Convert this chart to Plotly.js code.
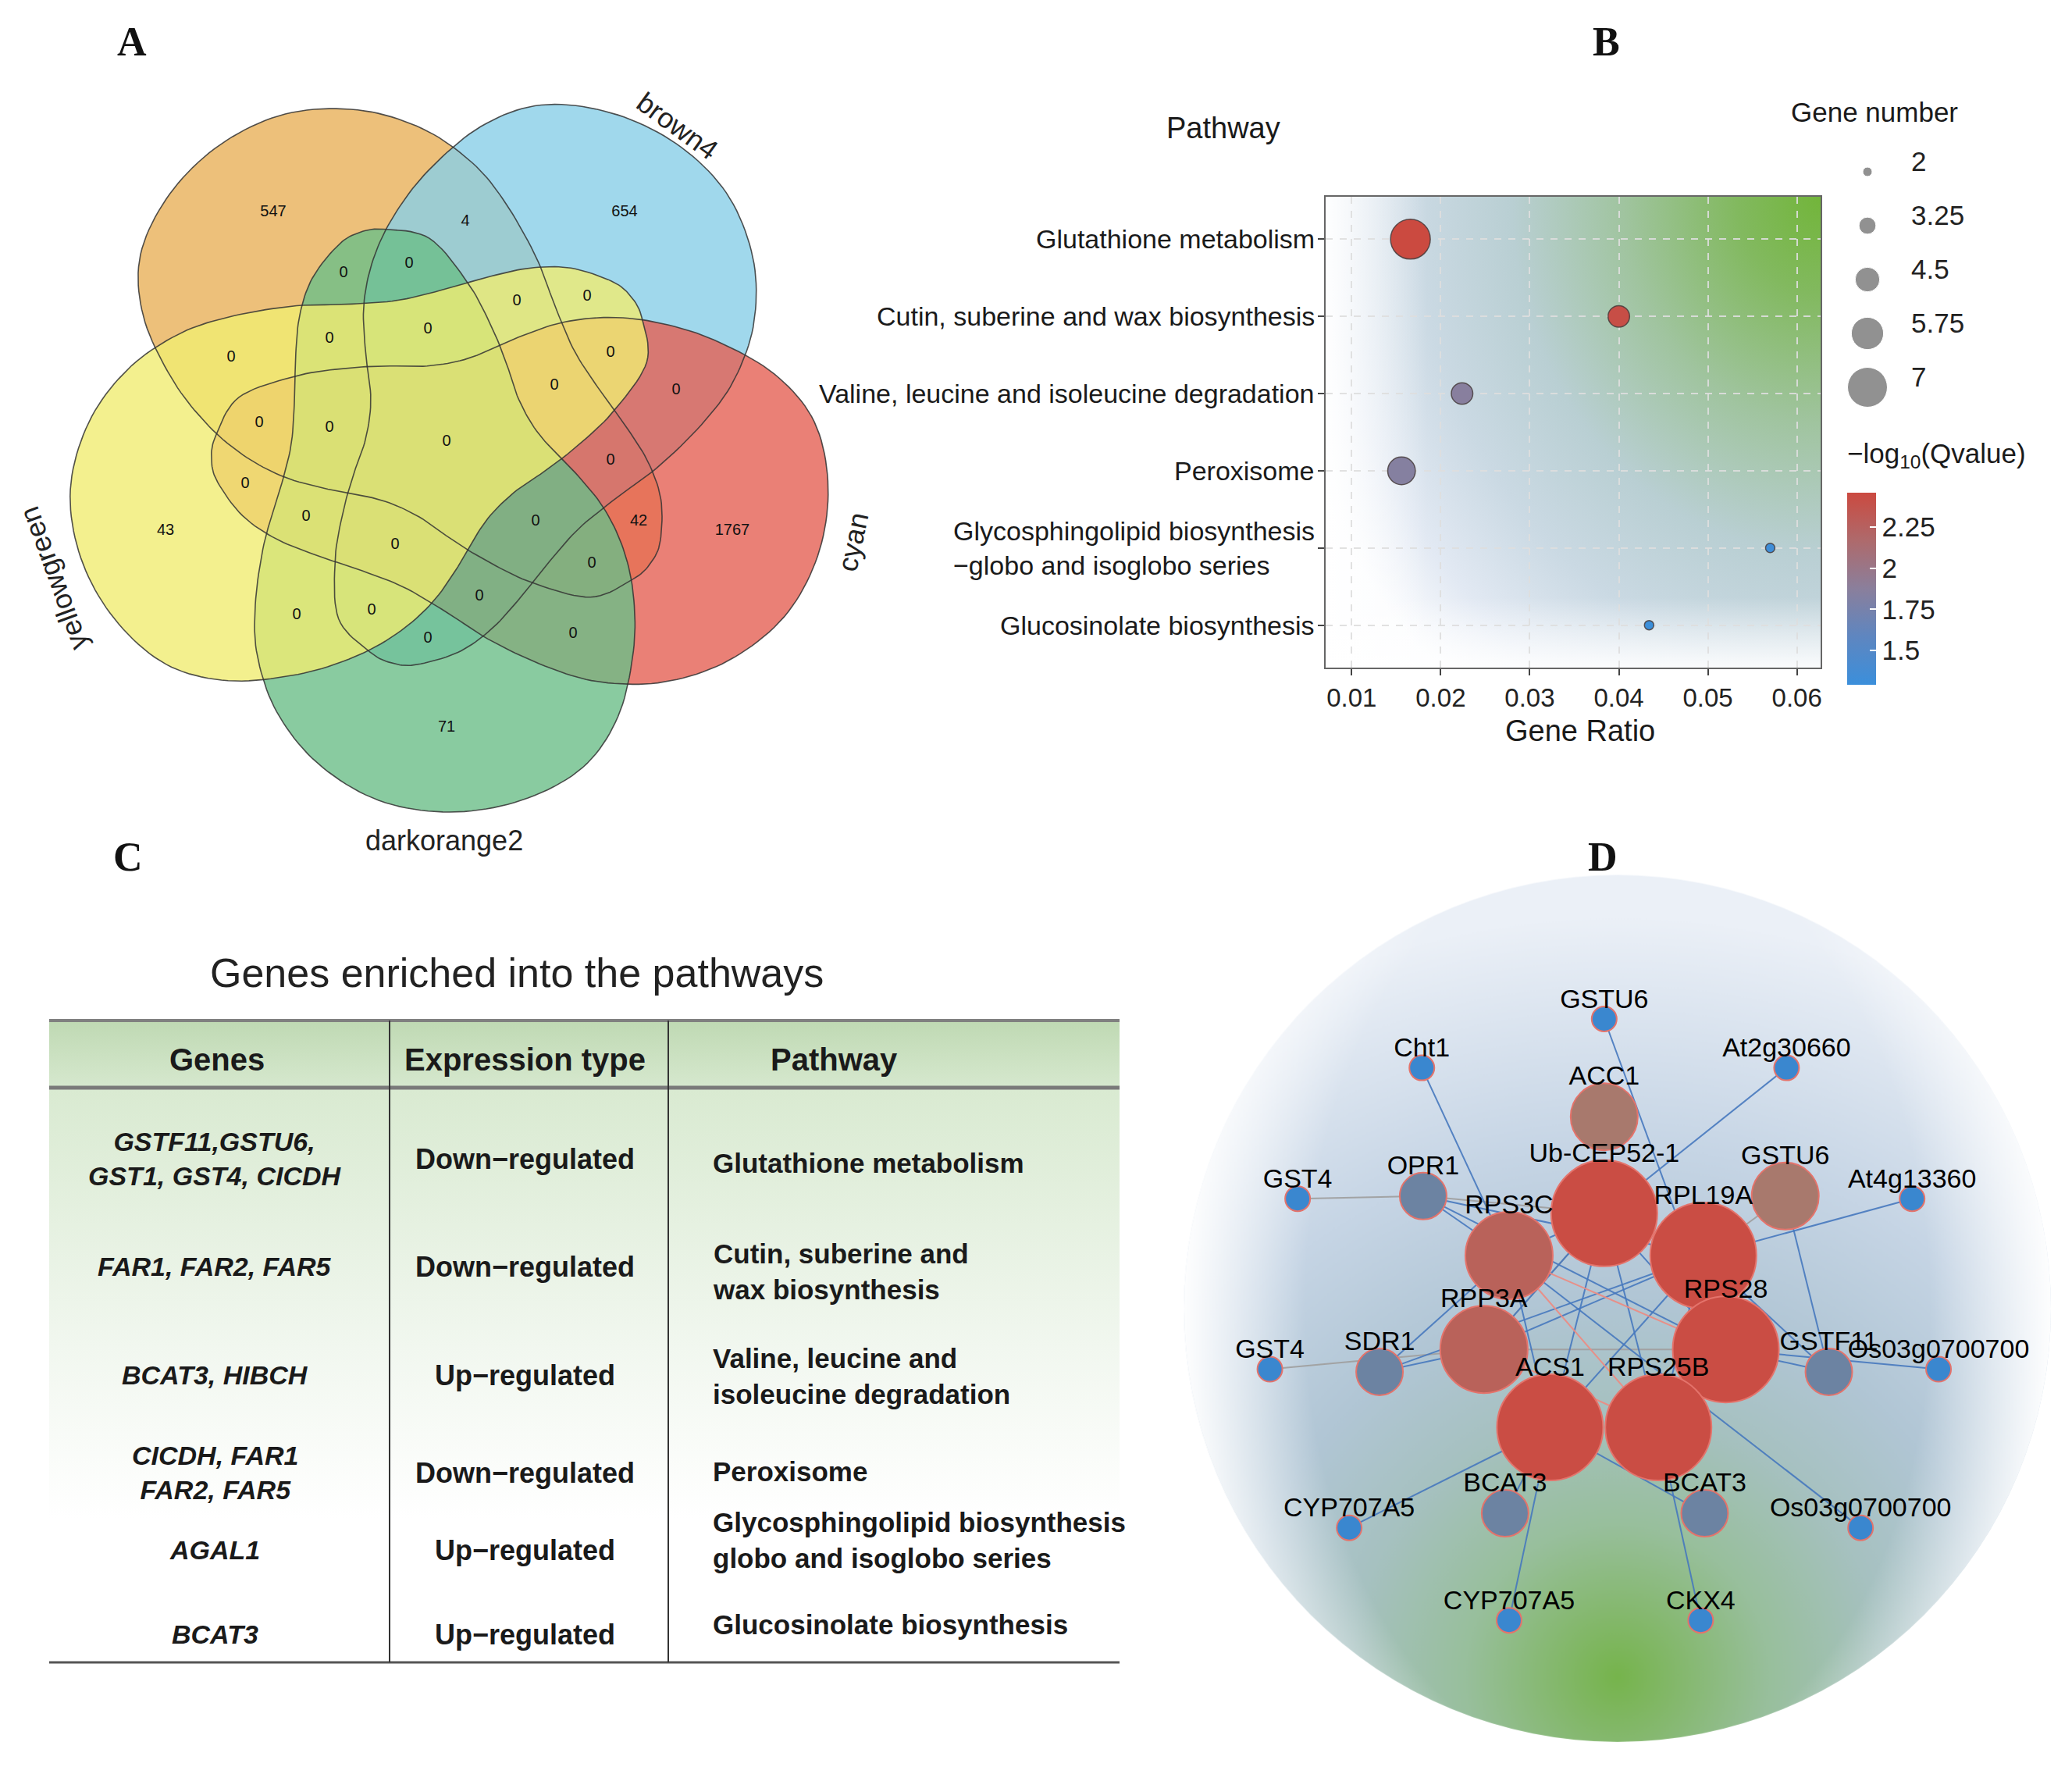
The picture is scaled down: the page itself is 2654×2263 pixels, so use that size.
<!DOCTYPE html>
<html><head><meta charset="utf-8">
<script src="https://cdn.plot.ly/plotly-3.0.1.min.js"></script>
<style>html,body{margin:0;padding:0;background:#fff}</style>
</head><body>
<div id="fig" style="width:2654px;height:2263px"></div>
<script>
// ================= DATA =================
// Panel A: five-set Venn diagram (set order: orange lobe, brown4, cyan, darkorange2, yellowgreen)
const vennSetNames = ['', 'brown4', 'cyan', 'darkorange2', 'yellowgreen'];
const vennRegionSets = [[0], [1], [2], [3], [4], [0, 1], [0, 2]];
const vennRegionCounts = [547, 654, 1767, 71, 43, 4, 42];   // every other region = 0

// Panel B: KEGG enrichment bubble chart
const pathways = ['Glutathione metabolism', 'Cutin, suberine and wax biosynthesis',
  'Valine, leucine and isoleucine degradation', 'Peroxisome',
  'Glycosphingolipid biosynthesis<br>−globo and isoglobo series', 'Glucosinolate biosynthesis'];
const geneRatio = [0.0166, 0.0400, 0.0224, 0.0156, 0.0570, 0.0434];
const geneNumber = [7, 4, 4, 5, 2, 2];
const negLogQ = [2.46, 2.42, 1.86, 1.84, 1.32, 1.30];
const ratioTicks = [0.01, 0.02, 0.03, 0.04, 0.05, 0.06];
const sizeBreaks = [2, 3.25, 4.5, 5.75, 7];
const qTicks = [1.5, 1.75, 2, 2.25];

// Panel C: table
const tableTitle = 'Genes enriched into the pathways';
const tableHeader = ['Genes', 'Expression type', 'Pathway'];
const tableGenes = ['GSTF11,GSTU6,<br>GST1, GST4, CICDH', 'FAR1, FAR2, FAR5', 'BCAT3, HIBCH',
  'CICDH, FAR1<br>FAR2, FAR5', 'AGAL1', 'BCAT3'];
const tableExpr = ['Down−regulated', 'Down−regulated', 'Up−regulated', 'Down−regulated', 'Up−regulated', 'Up−regulated'];
const tablePathway = ['Glutathione metabolism', 'Cutin, suberine and<br>wax biosynthesis',
  'Valine, leucine and<br>isoleucine degradation', 'Peroxisome',
  'Glycosphingolipid biosynthesis<br>globo and isoglobo series', 'Glucosinolate biosynthesis'];

// Panel D: network (layout coordinates, y downward; class 0 = leaf ... 4 = hub)
const nodeNames = ['GSTU6', 'Cht1', 'At2g30660', 'ACC1', 'GST4', 'OPR1', 'Ub-CEP52-1', 'GSTU6', 'At4g13360',
  'RPS3C', 'RPL19A', 'RPP3A', 'RPS28', 'GST4', 'SDR1', 'GSTF11', 'Os03g0700700', 'ACS1', 'RPS25B',
  'BCAT3', 'BCAT3', 'CYP707A5', 'Os03g0700700', 'CYP707A5', 'CKX4'];
const nodeX = [0, -138, 138, 0, -232, -137, 0, 137, 233, -72, 75, -91, 92, -253, -170, 170, 253, -41, 41, -75, 76, -193, 194, -72, 73];
const nodeY = [-219, -182, -182, -145, -83, -85, -72, -85, -83, -40, -40, 31, 31, 46, 48, 48, 46, 90, 90, 155, 155, 166, 166, 236, 236];
const nodeClass = [0, 0, 0, 2, 0, 1, 4, 2, 0, 3, 4, 3, 4, 0, 1, 1, 0, 4, 4, 1, 1, 0, 0, 0, 0];
const edgeSource = [0, 1, 2, 4, 5, 5, 5, 5, 7, 7, 8, 10, 13, 11, 14, 14, 14, 15, 15, 16, 21, 23, 19, 20, 24, 22, 6, 6, 6, 9, 9, 9, 6, 10, 11, 10, 9, 11];
const edgeTarget = [12, 9, 6, 5, 6, 9, 12, 10, 10, 15, 10, 11, 11, 6, 11, 10, 9, 12, 10, 12, 17, 17, 17, 17, 18, 9, 17, 18, 12, 12, 18, 17, 11, 17, 12, 18, 6, 18];
const edgeKind = ['b', 'b', 'b', 'g', 'g', 'b', 'b', 'b', 'g', 'b', 'b', 'b', 'g', 'g', 'b', 'b', 'b', 'b', 'b', 'b', 'b', 'b', 'b', 'b', 'b', 'b', 'b', 'b', 'b', 'p', 'p', 'b', 'b', 'b', 'g', 'b', 'b', 'p'];

// ================= LAYOUT / STYLE =================
const W = 2654, H = 2263;
const FONT = 'Liberation Sans, Arial, sans-serif';
const SERIF = 'Liberation Serif, Times New Roman, serif';
const px = x => x / W, py = y => 1 - y / H;

// ---- Panel A geometry (pixel units, y down): one set outline, repeated by 72° rotation
const VC = {x: 575, y: 567, sx: 1.023, sy: 0.975};
const vennDir = [234.5, 306.5, 18.5, 90.5, 162.5];
const vennOutline = [[-81.7, -280.5], [-24.2, -268.3], [23.6, -210.1], [52.3, -155.0], [71.5, -106.0], [87.4, -57.0],
  [112.9, -11.0], [154.4, 34.9], [192.7, 83.9], [218.2, 139.0], [231.0, 200.3], [231.0, 273.8], [211.8, 359.5],
  [167.2, 426.9], [90.6, 469.8], [1.3, 485.1], [-88.0, 469.8], [-164.6, 420.8], [-215.6, 353.4], [-239.9, 279.9],
  [-242.4, 212.5], [-231.6, 132.9], [-212.5, 65.5], [-197.8, 4.3], [-193.3, -57.0], [-192.0, -112.1], [-186.9, -167.2],
  [-171.0, -216.2], [-139.1, -259.1], [-113.6, -275.6]];
const vennFill = ['rgba(232,176,89,0.8)', 'rgba(136,206,231,0.8)', 'rgba(229,96,84,0.8)', 'rgba(107,190,136,0.8)', 'rgba(240,236,114,0.8)'];
function catmull(pts, n) {
  const out = [], N = pts.length;
  for (let i = 0; i < N; i++) {
    const p0 = pts[(i - 1 + N) % N], p1 = pts[i], p2 = pts[(i + 1) % N], p3 = pts[(i + 2) % N];
    for (let j = 0; j < n; j++) {
      const t = j / n, t2 = t * t, t3 = t2 * t;
      const f = (a, b, c, d) => 0.5 * (2 * b + (-a + c) * t + (2 * a - 5 * b + 4 * c - d) * t2 + (-a + 3 * b - 3 * c + d) * t3);
      out.push([f(p0[0], p1[0], p2[0], p3[0]), f(p0[1], p1[1], p2[1], p3[1])]);
    }
  }
  out.push(out[0]);
  return out;
}
const baseOutline = catmull(vennOutline, 10);
const vennPolys = vennDir.map(a => {
  const th = (a - 90.5) * Math.PI / 180, c = Math.cos(th), s = Math.sin(th);
  return baseOutline.map(([x, y]) => [VC.x + (x * c - y * s) * VC.sx, VC.y + (x * s + y * c) * VC.sy]);
});
function inPoly(poly, x, y) {
  let ins = false;
  for (let i = 0, j = poly.length - 1; i < poly.length; j = i++) {
    const xi = poly[i][0], yi = poly[i][1], xj = poly[j][0], yj = poly[j][1];
    if ((yi > y) !== (yj > y) && x < (xj - xi) * (y - yi) / (yj - yi) + xi) ins = !ins;
  }
  return ins;
}
function segDist(poly, x, y) {
  let m = 1e9;
  for (let i = 1; i < poly.length; i++) {
    const ax = poly[i - 1][0], ay = poly[i - 1][1], bx = poly[i][0], by = poly[i][1];
    const dx = bx - ax, dy = by - ay, L = dx * dx + dy * dy || 1e-9;
    let t = ((x - ax) * dx + (y - ay) * dy) / L; t = Math.max(0, Math.min(1, t));
    const ex = ax + t * dx - x, ey = ay + t * dy - y, d = ex * ex + ey * ey;
    if (d < m) m = d;
  }
  return Math.sqrt(m);
}
// label anchor of each region: a deep point close to the region's centroid
const regionPts = {};
for (let x = 20; x < 1120; x += 6) for (let y = 20; y < 1110; y += 6) {
  let mask = 0;
  vennPolys.forEach((p, k) => { if (inPoly(p, x, y)) mask |= (1 << k); });
  if (!mask) continue;
  let depth = 1e9;
  for (const p of vennPolys) depth = Math.min(depth, segDist(p, x, y));
  (regionPts[mask] = regionPts[mask] || []).push([x, y, depth]);
}
const countOf = {};
vennRegionSets.forEach((s, i) => { countOf[s.reduce((m, k) => m | (1 << k), 0)] = vennRegionCounts[i]; });
const regX = [], regY = [], regT = [];
Object.keys(regionPts).forEach(m => {
  const pts = regionPts[m];
  const cx = pts.reduce((a, p) => a + p[0], 0) / pts.length, cy = pts.reduce((a, p) => a + p[1], 0) / pts.length;
  let bestP = null, bestS = -1e9;
  pts.forEach(p => { const sc = Math.min(p[2], 40) - 0.3 * Math.hypot(p[0] - cx, p[1] - cy); if (sc > bestS) { bestS = sc; bestP = p; } });
  regX.push(bestP[0]); regY.push(bestP[1]); regT.push(String(countOf[m] || 0));
});

const traces = [];
vennPolys.forEach((p, k) => traces.push({type: 'scatter', x: p.map(q => q[0]), y: p.map(q => q[1]), mode: 'lines',
  fill: 'toself', fillcolor: vennFill[k], line: {width: 0}, xaxis: 'x', yaxis: 'y', hoverinfo: 'skip'}));
vennPolys.forEach(p => traces.push({type: 'scatter', x: p.map(q => q[0]), y: p.map(q => q[1]), mode: 'lines',
  line: {color: 'rgba(50,50,50,0.85)', width: 1.6}, xaxis: 'x', yaxis: 'y', hoverinfo: 'skip'}));
traces.push({type: 'scatter', x: regX, y: regY, text: regT, mode: 'text', textfont: {family: FONT, size: 20, color: '#111'},
  xaxis: 'x', yaxis: 'y', cliponaxis: false, hoverinfo: 'skip'});

// ---- Panel B
const sizeScale = n => 12 + (n - 2) * 7.8;
const Q_MIN = 1.29, Q_MAX = 2.46;
const qScale = [[0, '#3B8FDB'], [0.25, '#5E86C0'], [0.5, '#8A7F9C'], [0.75, '#AE6A6C'], [1, '#CB4A40']];
traces.push({type: 'scatter', x: geneRatio, y: pathways.map((_, i) => i), mode: 'markers', xaxis: 'x2', yaxis: 'y2',
  marker: {size: geneNumber.map(sizeScale), color: negLogQ, colorscale: qScale, cmin: Q_MIN, cmax: Q_MAX,
    line: {color: 'rgba(70,60,60,0.85)', width: 1.5}, opacity: 1,
    colorbar: {x: px(2366), xanchor: 'left', y: py(631), yanchor: 'top', len: 246 / H, lenmode: 'fraction',
      thickness: 37, thicknessmode: 'pixels', outlinewidth: 0, xpad: 0, ypad: 0,
      tickvals: qTicks, ticktext: qTicks.map(String), ticks: 'inside', ticklen: 8, tickcolor: '#ffffff', tickwidth: 2,
      tickfont: {family: FONT, size: 35, color: '#222'}}},
  cliponaxis: false, hoverinfo: 'skip'});
traces.push({type: 'scatter', x: sizeBreaks.map(() => 2392), y: sizeBreaks.map((_, i) => 220 + 69 * i), mode: 'markers',
  marker: {size: sizeBreaks.map(sizeScale), color: '#636363'}, xaxis: 'x3', yaxis: 'y3', cliponaxis: false, hoverinfo: 'skip'});
traces.push({type: 'scatter', x: sizeBreaks.map(() => 2448), y: sizeBreaks.map((_, i) => 210 + 69 * i), mode: 'text',
  text: sizeBreaks.map(String), textposition: 'middle right', textfont: {family: FONT, size: 35, color: '#222'},
  xaxis: 'x3', yaxis: 'y3', cliponaxis: false, hoverinfo: 'skip'});

// ---- Panel D network
const S = W / 1568, DC = {x: 1214, y: 990};
const nodeSizes = [32, 60, 86, 112, 136];
const nodeColors = ['#3a87cf', '#6c83a2', '#a8796d', '#b9625a', '#ca4d44'];
const edgeColors = {b: 'rgba(70,120,190,0.9)', g: 'rgba(160,160,160,0.95)', p: 'rgba(235,140,132,0.95)'};
['g', 'b', 'p'].forEach(kind => {
  const ex = [], ey = [];
  edgeSource.forEach((s, i) => {
    if (edgeKind[i] !== kind) return;
    const t = edgeTarget[i];
    ex.push(nodeX[s], nodeX[t], null); ey.push(nodeY[s], nodeY[t], null);
  });
  traces.push({type: 'scatter', x: ex, y: ey, mode: 'lines', line: {color: edgeColors[kind], width: 2},
    xaxis: 'x5', yaxis: 'y5', hoverinfo: 'skip'});
});
traces.push({type: 'scatter', x: nodeX, y: nodeY, mode: 'markers',
  marker: {size: nodeClass.map(c => nodeSizes[c]), color: nodeClass.map(c => nodeColors[c]),
    line: {color: '#e4736b', width: 2}, opacity: 1},
  xaxis: 'x5', yaxis: 'y5', cliponaxis: false, hoverinfo: 'skip'});
traces.push({type: 'scatter', x: nodeX, y: nodeY.map((y, i) => y - nodeSizes[nodeClass[i]] / 2 / S - 4), text: nodeNames,
  mode: 'text', textposition: 'middle center', textfont: {family: FONT, size: 34, color: '#000'},
  xaxis: 'x5', yaxis: 'y5', cliponaxis: false, hoverinfo: 'skip'});

// ---- background images (decoration) built on canvas
function canvasOf(w, h) { const c = document.createElement('canvas'); c.width = w; c.height = h; return c; }
function bgB(w, h) {
  const c = canvasOf(w, h), g = c.getContext('2d');
  g.fillStyle = '#fff'; g.fillRect(0, 0, w, h);
  g.save(); g.translate(w, 0); g.scale(1, 1.15);
  const r = 720, grd = g.createRadialGradient(0, 0, 0, 0, 0, r);
  grd.addColorStop(0, '#72b53a'); grd.addColorStop(0.15, '#82b95f'); grd.addColorStop(0.35, '#a0c49f');
  grd.addColorStop(0.55, '#b9cfd3'); grd.addColorStop(0.72, '#cad9e3'); grd.addColorStop(0.88, '#e2e9f3'); grd.addColorStop(1, '#fbfcfe');
  g.fillStyle = grd; g.fillRect(-w, 0, w, h / 1.15 + 2); g.restore();
  let lg = g.createLinearGradient(0, 0, 130, 0);
  lg.addColorStop(0, 'rgba(255,255,255,0.97)'); lg.addColorStop(1, 'rgba(255,255,255,0)');
  g.fillStyle = lg; g.fillRect(0, 0, 130, h);
  lg = g.createLinearGradient(0, h, 0, h - 90);
  lg.addColorStop(0, 'rgba(255,255,255,0.9)'); lg.addColorStop(1, 'rgba(255,255,255,0)');
  g.fillStyle = lg; g.fillRect(0, h - 90, w, 90);
  return c.toDataURL('image/png');
}
function bgD(R) {
  const s = 2 * R, c = canvasOf(s, s), g = c.getContext('2d');
  g.beginPath(); g.arc(R, R, R, 0, 2 * Math.PI); g.clip();
  const fx = R, fy = R + 0.85 * R, grd = g.createRadialGradient(fx, fy, 0, fx, fy, 1.75 * R);
  grd.addColorStop(0, '#76b44c'); grd.addColorStop(0.08, '#84b86c'); grd.addColorStop(0.2, '#98bf9c');
  grd.addColorStop(0.35, '#a6c1c0'); grd.addColorStop(0.5, '#b1c6d5'); grd.addColorStop(0.7, '#c6d5e5');
  grd.addColorStop(0.88, '#dce5f0'); grd.addColorStop(1, '#ebf0f7');
  g.fillStyle = grd; g.fillRect(0, 0, s, s);
  g.save(); g.translate(R, R); g.scale(1, 1.5);
  const v = g.createRadialGradient(0, 0, 0, 0, 0, R);
  v.addColorStop(0, 'rgba(255,255,255,0)'); v.addColorStop(0.72, 'rgba(255,255,255,0)'); v.addColorStop(1, 'rgba(255,255,255,0.97)');
  g.fillStyle = v; g.fillRect(-R, -R, 2 * R, 2 * R); g.restore();
  return c.toDataURL('image/png');
}
function bgTable(w, h, hh) {
  const c = canvasOf(w, h), g = c.getContext('2d');
  let lg = g.createLinearGradient(0, 0, 0, hh);
  lg.addColorStop(0, '#bfd9b3'); lg.addColorStop(1, '#d6e8ce');
  g.fillStyle = lg; g.fillRect(0, 0, w, hh);
  lg = g.createLinearGradient(0, hh, 0, h);
  lg.addColorStop(0, '#d9ead1'); lg.addColorStop(0.45, '#f1f7ef'); lg.addColorStop(0.75, '#ffffff'); lg.addColorStop(1, '#ffffff');
  g.fillStyle = lg; g.fillRect(0, hh, w, h - hh);
  return c.toDataURL('image/png');
}
const BPLOT = {x0: 1698, x1: 2332, y0: 252, y1: 855};
const DCIRC = {cx: (DC.x + 10) * S, cy: DC.y * S, r: 328 * S};
const TBL = {x0: 63, x1: 1434, top: 1307, head: 1393, bottom: 2129, cols: [499, 856]};
const images = [
  {source: bgB(BPLOT.x1 - BPLOT.x0, BPLOT.y1 - BPLOT.y0), xref: 'paper', yref: 'paper', x: px(BPLOT.x0), y: py(BPLOT.y0),
    sizex: (BPLOT.x1 - BPLOT.x0) / W, sizey: (BPLOT.y1 - BPLOT.y0) / H, xanchor: 'left', yanchor: 'top', sizing: 'stretch', layer: 'below'},
  {source: bgD(Math.round(DCIRC.r)), xref: 'paper', yref: 'paper', x: px(DCIRC.cx - DCIRC.r), y: py(DCIRC.cy - DCIRC.r),
    sizex: 2 * DCIRC.r / W, sizey: 2 * DCIRC.r / H, xanchor: 'left', yanchor: 'top', sizing: 'stretch', layer: 'below'},
  {source: bgTable(TBL.x1 - TBL.x0, TBL.bottom - TBL.top, TBL.head - TBL.top), xref: 'paper', yref: 'paper', x: px(TBL.x0), y: py(TBL.top),
    sizex: (TBL.x1 - TBL.x0) / W, sizey: (TBL.bottom - TBL.top) / H, xanchor: 'left', yanchor: 'top', sizing: 'stretch', layer: 'below'}
];

// ---- annotations
const ann = [];
const A = (o) => ann.push(Object.assign({showarrow: false, xanchor: 'center', yanchor: 'middle'}, o));
[['A', 169, 54], ['B', 2057, 54], ['C', 164, 1097], ['D', 2053, 1097]].forEach(([t, x, y]) =>
  A({xref: 'paper', yref: 'paper', x: px(x), y: py(y), text: '<b>' + t + '</b>', font: {family: SERIF, size: 52, color: '#111'}}));
const vennLabelPos = [null, [868, 161, 36], [1092, 694, -78], [569, 1076, 0], [68, 741, -110]];
vennSetNames.forEach((n, k) => {
  if (!n) return;
  const [x, y, a] = vennLabelPos[k];
  A({xref: 'x', yref: 'y', x, y, text: n, textangle: a, font: {family: FONT, size: 36, color: '#222'}});
});
pathways.forEach((p, i) => A({xref: 'paper', yref: 'y2', x: px(1686), y: i, text: p, xanchor: 'right', align: 'left',
  font: {family: FONT, size: 34, color: '#1a1a1a'}}));
A({xref: 'paper', yref: 'paper', x: px(1567), y: py(164), text: 'Pathway', font: {family: FONT, size: 38, color: '#1a1a1a'}});
A({xref: 'paper', yref: 'paper', x: px(2024), y: py(936), text: 'Gene Ratio', font: {family: FONT, size: 38, color: '#1a1a1a'}});
A({xref: 'paper', yref: 'paper', x: px(2292), y: py(144), text: 'Gene number', xanchor: 'left', font: {family: FONT, size: 35, color: '#1a1a1a'}});
A({xref: 'paper', yref: 'paper', x: px(2364), y: py(583), text: '−log<sub>10</sub>(Qvalue)', xanchor: 'left', font: {family: FONT, size: 35, color: '#1a1a1a'}});
A({xref: 'x4', yref: 'y4', x: 662, y: 1246, text: tableTitle, font: {family: FONT, size: 52, color: '#222'}});
const headX = [278, 672, 1068];
tableHeader.forEach((t, i) => A({xref: 'x4', yref: 'y4', x: headX[i], y: 1357, text: '<b>' + t + '</b>', font: {family: FONT, size: 40, color: '#1a1a1a'}}));
const rowY = [1484, 1622, 1761, 1886, 1985, 2093];
const rowYPath = [1489, 1628, 1762, 1884, 1972, 2080];
tableGenes.forEach((t, i) => A({xref: 'x4', yref: 'y4', x: 275, y: rowY[i], text: '<b><i>' + t + '</i></b>', font: {family: FONT, size: 34, color: '#1a1a1a'}}));
tableExpr.forEach((t, i) => A({xref: 'x4', yref: 'y4', x: 672, y: rowY[i], text: '<b>' + t + '</b>', font: {family: FONT, size: 36, color: '#1a1a1a'}}));
tablePathway.forEach((t, i) => A({xref: 'x4', yref: 'y4', x: 911, y: rowYPath[i], text: '<b>' + t + '</b>', xanchor: 'left', align: 'left',
  font: {family: FONT, size: 35, color: '#1a1a1a'}}));

const shapes = [
  {type: 'line', xref: 'x4', yref: 'y4', x0: TBL.x0, x1: TBL.x1, y0: TBL.top, y1: TBL.top, line: {color: '#808080', width: 4}},
  {type: 'line', xref: 'x4', yref: 'y4', x0: TBL.x0, x1: TBL.x1, y0: TBL.head, y1: TBL.head, line: {color: '#7a7a7a', width: 5}},
  {type: 'line', xref: 'x4', yref: 'y4', x0: TBL.x0, x1: TBL.x1, y0: TBL.bottom, y1: TBL.bottom, line: {color: '#555', width: 3}},
  ...TBL.cols.map(cx => ({type: 'line', xref: 'x4', yref: 'y4', x0: cx, x1: cx, y0: TBL.top, y1: TBL.bottom, line: {color: '#333', width: 2}}))
];

const hid = {visible: false, fixedrange: true};
const layout = {
  width: W, height: H, margin: {l: 0, r: 0, t: 0, b: 0}, paper_bgcolor: '#ffffff', plot_bgcolor: 'rgba(0,0,0,0)',
  showlegend: false, font: {family: FONT},
  xaxis: {...hid, domain: [0, 1130 / W], range: [0, 1130]},
  yaxis: {...hid, domain: [1 - 1120 / H, 1], range: [1120, 0]},
  xaxis2: {domain: [px(BPLOT.x0), px(BPLOT.x1)], range: [0.00708, 0.06266], anchor: 'y2', tickvals: ratioTicks,
    ticktext: ratioTicks.map(v => v.toFixed(2)), ticks: 'outside', ticklen: 8, tickwidth: 2, tickcolor: '#444',
    tickfont: {family: FONT, size: 33, color: '#222'}, showline: true, mirror: true, linecolor: '#666', linewidth: 2,
    showgrid: true, gridcolor: 'rgba(222,222,222,0.9)', gridwidth: 2, griddash: 'dash', zeroline: false, fixedrange: true},
  yaxis2: {domain: [py(BPLOT.y1), py(BPLOT.y0)], range: [5.55, -0.55], anchor: 'x2', tickvals: [0, 1, 2, 3, 4, 5],
    showticklabels: false, ticks: 'outside', ticklen: 8, tickwidth: 2, tickcolor: '#444', showline: true, mirror: true,
    linecolor: '#666', linewidth: 2, showgrid: true, gridcolor: 'rgba(222,222,222,0.9)', gridwidth: 2, griddash: 'dash',
    zeroline: false, fixedrange: true},
  xaxis3: {...hid, domain: [2280 / W, 1], range: [2280, W], anchor: 'y3'},
  yaxis3: {...hid, domain: [py(560), py(100)], range: [560, 100], anchor: 'x3'},
  xaxis4: {...hid, domain: [0, 1460 / W], range: [0, 1460], anchor: 'y4'},
  yaxis4: {...hid, domain: [0, py(1150)], range: [H, 1150], anchor: 'x4'},
  xaxis5: {...hid, domain: [1480 / W, 1], range: [1480 / S - DC.x, W / S - DC.x], anchor: 'y5'},
  yaxis5: {...hid, domain: [0, py(1150)], range: [H / S - DC.y, 1150 / S - DC.y], anchor: 'x5'},
  images, annotations: ann, shapes
};
Plotly.newPlot('fig', traces, layout, {staticPlot: true, displayModeBar: false});
</script>
</body></html>
